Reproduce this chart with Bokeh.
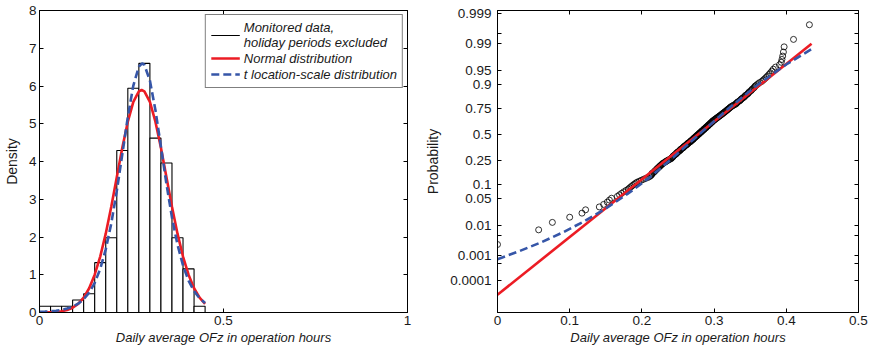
from statistics import NormalDist

import numpy as np
from bokeh.embed import file_html
from bokeh.layouts import row
from bokeh.models import FixedTicker, Legend, LegendItem, LinearAxis, Range1d
from bokeh.plotting import figure
from bokeh.resources import INLINE

# Daily average OFz in operation hours (monitored, holiday periods excluded), sorted
ofz_daily = [
    0.000,
    0.057,
    0.076,
    0.100, 0.117,
    0.122, 0.141, 0.147,
    0.152, 0.155, 0.158, 0.166, 0.169, 0.172, 0.175, 0.178,
    0.181, 0.183, 0.185, 0.187, 0.189, 0.191, 0.193, 0.196, 0.199, 0.202, 0.205, 0.208,
    0.2105, 0.212, 0.213, 0.214, 0.214, 0.216, 0.217, 0.218, 0.219, 0.220, 0.221, 0.222, 0.223,
    0.224, 0.225, 0.226, 0.227, 0.228, 0.229, 0.230, 0.232, 0.233, 0.234, 0.236, 0.237, 0.239,
    0.2405, 0.241, 0.242, 0.243, 0.243, 0.244, 0.245, 0.246, 0.247, 0.248, 0.248, 0.249,
    0.250, 0.251, 0.252, 0.253, 0.253, 0.254, 0.255, 0.256, 0.257, 0.258, 0.258, 0.259,
    0.260, 0.261, 0.262, 0.263, 0.263, 0.264, 0.265, 0.266, 0.267, 0.268, 0.268, 0.269,
    0.2705, 0.271, 0.271, 0.272, 0.273, 0.274, 0.274, 0.275, 0.276, 0.277, 0.277, 0.278,
    0.279, 0.280, 0.280, 0.281, 0.282, 0.283, 0.283, 0.284, 0.285, 0.286, 0.286, 0.287,
    0.288, 0.289, 0.289, 0.290, 0.291, 0.292, 0.292, 0.293, 0.294, 0.295, 0.295, 0.296,
    0.297, 0.298, 0.298, 0.299,
    0.3005, 0.301, 0.302, 0.303, 0.304, 0.305, 0.306, 0.307, 0.308, 0.309, 0.310, 0.311,
    0.312, 0.313, 0.314, 0.315, 0.316, 0.317, 0.318, 0.319, 0.320, 0.321, 0.322, 0.323,
    0.324, 0.326, 0.327, 0.329,
    0.3305, 0.331, 0.332, 0.333, 0.335, 0.336, 0.337, 0.338, 0.339, 0.341, 0.342, 0.343,
    0.344, 0.346, 0.347, 0.348, 0.349, 0.351, 0.352, 0.353, 0.355, 0.356, 0.357, 0.359,
    0.361, 0.363, 0.366, 0.368, 0.370, 0.372, 0.374, 0.376, 0.378, 0.380, 0.382, 0.385,
    0.3905, 0.393, 0.394, 0.395, 0.396, 0.397, 0.410,
    0.432,
]

# Fitted normal density
normal_x = [0.000, 0.015, 0.030, 0.045, 0.060, 0.075, 0.090, 0.105, 0.120, 0.135, 0.150,
            0.165, 0.180, 0.195, 0.210, 0.225, 0.240, 0.255, 0.270, 0.2775, 0.285, 0.300,
            0.315, 0.330, 0.345, 0.360, 0.375, 0.390, 0.405, 0.420, 0.435, 0.450]
normal_pdf = [0.001, 0.003, 0.007, 0.016, 0.034, 0.067, 0.127, 0.229, 0.394, 0.643, 1.001,
              1.481, 2.089, 2.804, 3.585, 4.363, 5.055, 5.577, 5.857, 5.893, 5.857, 5.577,
              5.055, 4.363, 3.585, 2.804, 2.089, 1.481, 1.001, 0.643, 0.394, 0.229]

# Fitted t location-scale density
tls_x = [0.000, 0.015, 0.030, 0.045, 0.060, 0.075, 0.090, 0.105, 0.120, 0.135, 0.150,
         0.165, 0.180, 0.195, 0.210, 0.225, 0.240, 0.255, 0.270, 0.279, 0.285, 0.300,
         0.315, 0.330, 0.345, 0.360, 0.375, 0.390, 0.405, 0.420, 0.435, 0.450]
tls_pdf = [0.016, 0.022, 0.033, 0.048, 0.070, 0.104, 0.156, 0.233, 0.350, 0.525, 0.783,
           1.155, 1.672, 2.358, 3.215, 4.192, 5.179, 6.012, 6.513, 6.599, 6.561, 6.143,
           5.364, 4.393, 3.404, 2.517, 1.796, 1.245, 0.847, 0.569, 0.380, 0.253]

# Fitted cumulative distributions for the probability plot
normal_cdf_x = [0.000, 0.435]
normal_cdf_p = [2.1e-5, 0.990]
tls_cdf_x = [0.000, 0.030, 0.060, 0.090, 0.120, 0.150, 0.180, 0.210, 0.240, 0.279,
             0.320, 0.360, 0.400, 0.435]
tls_cdf_p = [0.00072, 0.00143, 0.0029, 0.0061, 0.0133, 0.0294, 0.0646, 0.134, 0.261, 0.5,
             0.748, 0.898, 0.9637, 0.9856]

# Axis ticks
hist_x_ticks = [0, 0.5, 1]
hist_x_labels = ["0", "0.5", "1"]
hist_y_ticks = [0, 1, 2, 3, 4, 5, 6, 7, 8]
prob_x_ticks = [0, 0.1, 0.2, 0.3, 0.4, 0.5]
prob_x_labels = ["0", "0.1", "0.2", "0.3", "0.4", "0.5"]
prob_ticks = [0.0001, 0.001, 0.01, 0.05, 0.1, 0.25, 0.5, 0.75, 0.9, 0.95, 0.99, 0.999]
prob_labels = ["0.0001", "0.001", "0.01", "0.05", "0.1", "0.25", "0.5", "0.75", "0.9",
               "0.95", "0.99", "0.999"]
prob_unlabelled = [0.0005, 0.005, 0.995]

FONT = "Liberation Sans"
RED = "#ec1c24"
BLUE = "#3656a8"
INK = "#1a1a1a"
XLABEL = "Daily average OFz in operation hours"

probit = NormalDist().inv_cdf


def style_axis(ax):
    ax.axis_line_color = "black"
    ax.axis_line_width = 1
    ax.major_tick_in = 4
    ax.major_tick_out = 0
    ax.major_tick_line_color = "black"
    ax.minor_tick_in = 4
    ax.minor_tick_out = 0
    ax.minor_tick_line_color = "black"
    ax.major_label_text_font = FONT
    ax.major_label_text_color = INK
    ax.major_label_text_font_size = "13.5px"
    ax.major_label_standoff = 3
    ax.axis_label_text_font = FONT
    ax.axis_label_text_color = INK


def mirror_axes(p, xticks, yticks):
    # box the frame: tick marks only (no labels) on the top and right edges
    for ticks, side in ((xticks, "above"), (yticks, "right")):
        ax = LinearAxis(ticker=FixedTicker(ticks=[], minor_ticks=ticks))
        style_axis(ax)
        ax.major_label_standoff = 0
        p.add_layout(ax, side)


def style_fig(p):
    p.grid.visible = False
    p.outline_line_color = "black"
    p.background_fill_color = "white"
    p.border_fill_color = "white"


def set_xlabel(p):
    p.xaxis.axis_label = XLABEL
    p.xaxis.axis_label_text_font_style = "italic"
    p.xaxis.axis_label_text_font_size = "13px"
    p.xaxis.axis_label_standoff = 2


def set_ylabel(p, text):
    p.yaxis.axis_label = text
    p.yaxis.axis_label_text_font_style = "normal"
    p.yaxis.axis_label_text_font_size = "14px"
    p.yaxis.axis_label_standoff = 6


# ---- Histogram with fitted densities ----
edges = np.linspace(0, 0.45, 16)
density, edges = np.histogram(ofz_daily, bins=edges, density=True)

p1 = figure(width=422, height=347, output_backend="svg", toolbar_location=None,
            x_range=Range1d(0, 1), y_range=Range1d(0, 8),
            min_border_left=37, min_border_right=15, min_border_top=10,
            min_border_bottom=35)
style_fig(p1)

p1.quad(left=edges[:-1], right=edges[1:], bottom=0, top=density,
        fill_color="white", line_color="black", line_width=1.1)
r_norm = p1.line(normal_x, normal_pdf, line_color=RED, line_width=2.6)
r_tls = p1.line(tls_x, tls_pdf, line_color=BLUE, line_width=2.6, line_dash="8 4")
r_data = p1.line([np.nan], [np.nan], line_color="black", line_width=1)

p1.xaxis.ticker = FixedTicker(ticks=hist_x_ticks)
p1.yaxis.ticker = FixedTicker(ticks=hist_y_ticks)
p1.xaxis.major_label_overrides = dict(zip(hist_x_ticks, hist_x_labels))
style_axis(p1.xaxis[0])
style_axis(p1.yaxis[0])
set_xlabel(p1)
set_ylabel(p1, "Density")
mirror_axes(p1, hist_x_ticks, hist_y_ticks)

legend = Legend(
    items=[
        LegendItem(label="Monitored data,\nholiday periods excluded", renderers=[r_data]),
        LegendItem(label="Normal distribution", renderers=[r_norm]),
        LegendItem(label="t location-scale distribution", renderers=[r_tls]),
    ],
    location="top_right", margin=4, padding=5, spacing=0,
    glyph_width=29, glyph_height=16, label_standoff=4, label_height=16,
    label_text_font=FONT, label_text_font_size="13px", label_text_font_style="italic",
    label_text_color=INK, label_text_line_height=1.3,
    border_line_color="black", border_line_width=1, background_fill_alpha=1,
)
p1.add_layout(legend)

# ---- Normal probability plot ----
n = len(ofz_daily)
plot_pos = [probit((i + 0.5) / n) for i in range(n)]

p2 = figure(width=447, height=347, output_backend="svg", toolbar_location=None,
            x_range=Range1d(0, 0.5), y_range=Range1d(-4.55, 3.175),
            min_border_left=67, min_border_right=11, min_border_top=10,
            min_border_bottom=35)
style_fig(p2)

p2.scatter(ofz_daily, plot_pos, marker="circle", size=6, fill_color=None,
           line_color="black", line_width=0.8)
p2.line(normal_cdf_x, [probit(v) for v in normal_cdf_p], line_color=RED, line_width=2.6)
p2.line(tls_cdf_x, [probit(v) for v in tls_cdf_p], line_color=BLUE, line_width=2.6,
        line_dash="8 4")

prob_z = [probit(v) for v in prob_ticks]
prob_minor_z = [probit(v) for v in prob_unlabelled]
p2.xaxis.ticker = FixedTicker(ticks=prob_x_ticks)
p2.yaxis.ticker = FixedTicker(ticks=prob_z, minor_ticks=prob_minor_z)
p2.xaxis.major_label_overrides = dict(zip(prob_x_ticks, prob_x_labels))
p2.yaxis.major_label_overrides = dict(zip(prob_z, prob_labels))
style_axis(p2.xaxis[0])
style_axis(p2.yaxis[0])
p2.yaxis.major_label_standoff = 6
set_xlabel(p2)
set_ylabel(p2, "Probability")
mirror_axes(p2, prob_x_ticks, sorted(prob_z + prob_minor_z))

layout = row(p1, p2)
open("out.html", "w").write(file_html(layout, INLINE))
